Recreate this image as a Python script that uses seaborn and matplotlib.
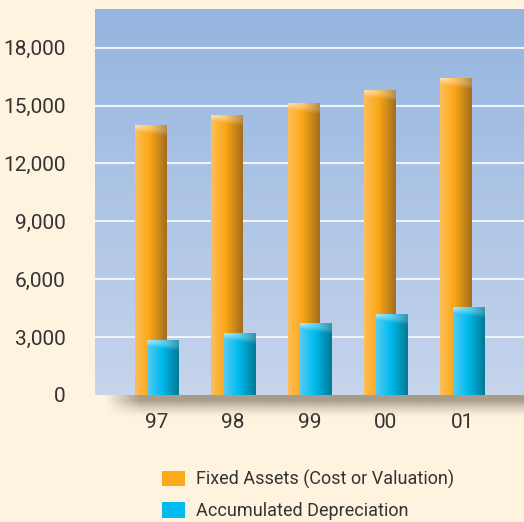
import numpy as np
import pandas as pd
import seaborn as sns
import matplotlib.pyplot as plt
from matplotlib.patches import Patch
from matplotlib.colors import to_rgb
from matplotlib.ticker import FuncFormatter

years = ['97', '98', '99', '00', '01']
fixed_assets = [13950, 14500, 15100, 15800, 16400]
accum_depr = [2800, 3200, 3700, 4150, 4550]
labels = ['Fixed Assets (Cost or Valuation)', 'Accumulated Depreciation']

df = pd.DataFrame({'year': years, 'fixed': fixed_assets, 'depr': accum_depr})

cream = '#FEF3DF'
txt = '#333333'
sns.set_style('white')
plt.rcParams['font.family'] = ['Roboto', 'DejaVu Sans']

fig = plt.figure(figsize=(5.24, 5.22), dpi=100, facecolor=cream)
W, H = 524, 522
ax = fig.add_axes([95 / W, 1 - 395 / H, 1 - 95 / W, (395 - 9) / H])

bw = 0.41
off = 0.08
sns.barplot(data=df, x='year', y='fixed', order=years, color='#FBAA1B', width=bw,
            ax=ax, zorder=3, saturation=1, linewidth=0)
n0 = len(ax.patches)
sns.barplot(data=df, x='year', y='depr', order=years, color='#00BBEE', width=bw,
            ax=ax, zorder=4, saturation=1, linewidth=0)
for i, p in enumerate(ax.patches):
    p.set_x(p.get_x() + (-off if i < n0 else off))


def bar_shade(p, left, mid, right, z):
    x0, w = p.get_x(), p.get_width()
    h = p.get_height()
    nx, ny = 40, 60
    t = np.linspace(0, 1, nx)
    l, m, r = np.array(to_rgb(left)), np.array(to_rgb(mid)), np.array(to_rgb(right))
    row = np.where(t[:, None] < 0.45, l + (m - l) * (t[:, None] / 0.45),
                   m + (r - m) * ((t[:, None] - 0.45) / 0.55))
    img = np.repeat(row[None, :, :], ny, axis=0)
    ax.imshow(img, extent=(x0, x0 + w, 0, h), aspect='auto', origin='lower',
              interpolation='bilinear', zorder=z, clip_path=p, clip_on=True)
    # lighter top cap
    cap_h = 700
    cy = np.linspace(0, 1, 30)[:, None]
    edge = 0.45 + 0.4 * t[None, :]
    a = np.clip((cy - (1 - edge)) * 2.5, 0, 1) * 0.5
    cap = np.zeros((30, nx, 4))
    cap[..., :3] = 1.0
    cap[..., 3] = a * (1 - 0.6 * t[None, :])
    ax.imshow(cap, extent=(x0, x0 + w, h - cap_h, h), aspect='auto', origin='lower',
              interpolation='bilinear', zorder=z + 0.1, clip_path=p, clip_on=True)


for i, p in enumerate(ax.patches):
    if i < n0:
        bar_shade(p, '#FDBE5A', '#FBA816', '#A36E1E', 3.2)
    else:
        bar_shade(p, '#55CBF3', '#00BBEE', '#007A96', 4.2)

# plot background gradient
top, bot = np.array(to_rgb('#95B5DF')), np.array(to_rgb('#C6D4EC'))
g = np.linspace(0, 1, 100)[:, None]
bg = (bot + (top - bot) * g)[:, None, :]
ax.imshow(bg, extent=(-0.81, 4.81, 0, 20000), aspect='auto', origin='lower', zorder=0)

for v in range(3000, 18001, 3000):
    ax.axhline(v, color='#EEF2FA', lw=1.5, zorder=1)

ax.set_xlim(-0.81, 4.81)
ax.set_ylim(0, 20000)
ax.set_yticks(range(0, 18001, 3000))
ax.yaxis.set_major_formatter(FuncFormatter(lambda v, _: f'{int(v):,}'))
ax.tick_params(axis='y', length=0, pad=21, labelsize=15, labelcolor=txt)
ax.tick_params(axis='x', length=0, pad=13, labelsize=15, labelcolor=txt)
ax.set_xlabel('')
ax.set_ylabel('')
for s in ax.spines.values():
    s.set_visible(False)

# shadow under the plot
sax = fig.add_axes([105 / W, 1 - 418 / H, 1 - 105 / W, 23 / H])
sh = np.zeros((40, 200, 4))
sh[..., :3] = to_rgb('#A89C8B')
yy = np.linspace(1, 0, 40)[:, None]
xx = np.linspace(0, 1, 200)[None, :]
sh[..., 3] = np.clip(yy * 1.3, 0, 1) ** 1.5 * np.clip(xx * 12, 0, 1)
sax.imshow(sh, aspect='auto', interpolation='bilinear')
sax.axis('off')

handles = [Patch(facecolor='#FBAA1B', edgecolor='none'),
           Patch(facecolor='#00BBEE', edgecolor='none')]
fig.legend(handles, labels, loc='upper left', bbox_to_anchor=(162 / W, 1 - 470 / H),
           frameon=False, fontsize=13, handlelength=1.3, handleheight=0.95,
           handletextpad=0.6, labelspacing=0.72, labelcolor=txt,
           borderpad=0, borderaxespad=0)

fig.savefig('out.png', dpi=100, facecolor=cream)
